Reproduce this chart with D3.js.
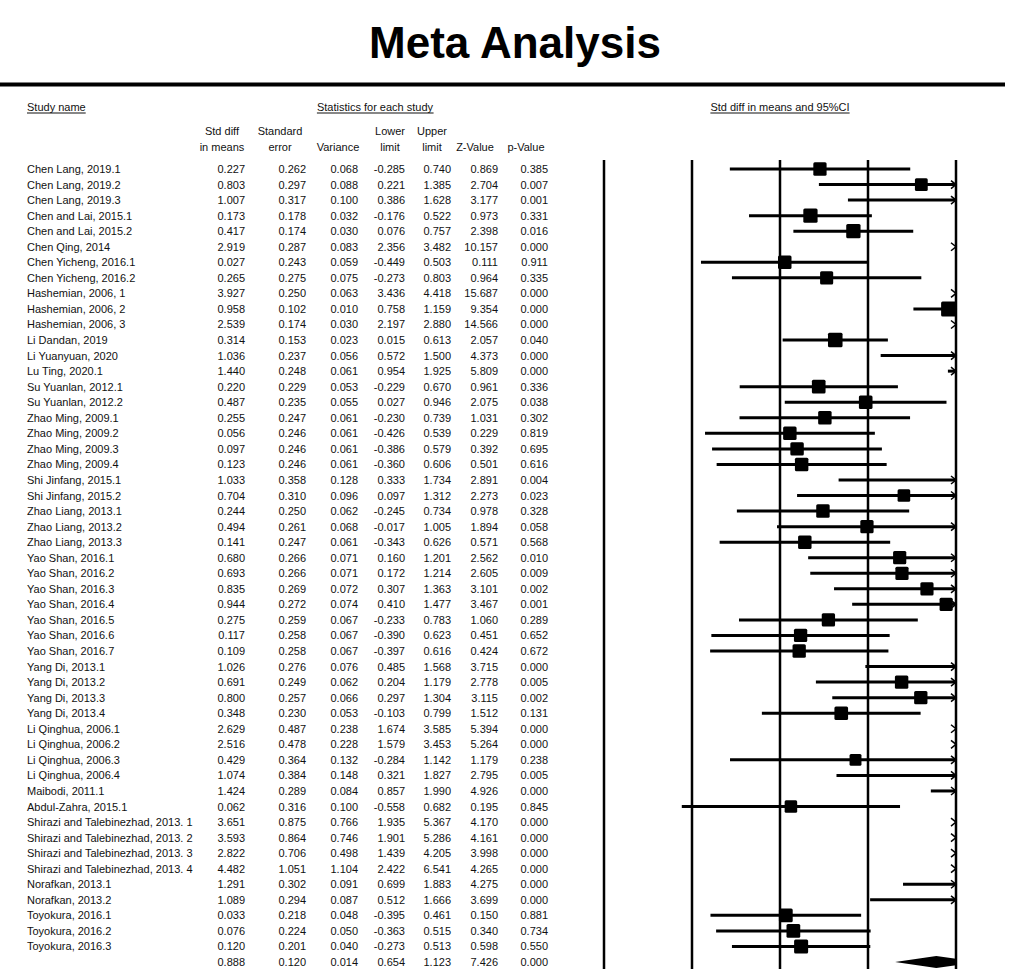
<html>
<head>
<script src="https://d3js.org/d3.v7.min.js"></script>
<style>
  body { margin: 0; background: #fff; }
  text { font-family: Arial, "Liberation Sans", sans-serif; fill: #111; }
</style>
</head>
<body>
<svg width="1021" height="974"></svg>
<script>

var studies = ["Chen Lang, 2019.1", "Chen Lang, 2019.2", "Chen Lang, 2019.3", "Chen and Lai, 2015.1", "Chen and Lai, 2015.2",
  "Chen Qing, 2014", "Chen Yicheng, 2016.1", "Chen Yicheng, 2016.2", "Hashemian, 2006, 1", "Hashemian, 2006, 2",
  "Hashemian, 2006, 3", "Li Dandan, 2019", "Li Yuanyuan, 2020", "Lu Ting, 2020.1", "Su Yuanlan, 2012.1",
  "Su Yuanlan, 2012.2", "Zhao Ming, 2009.1", "Zhao Ming, 2009.2", "Zhao Ming, 2009.3", "Zhao Ming, 2009.4",
  "Shi Jinfang, 2015.1", "Shi Jinfang, 2015.2", "Zhao Liang, 2013.1", "Zhao Liang, 2013.2", "Zhao Liang, 2013.3",
  "Yao Shan, 2016.1", "Yao Shan, 2016.2", "Yao Shan, 2016.3", "Yao Shan, 2016.4", "Yao Shan, 2016.5",
  "Yao Shan, 2016.6", "Yao Shan, 2016.7", "Yang Di, 2013.1", "Yang Di, 2013.2", "Yang Di, 2013.3",
  "Yang Di, 2013.4", "Li Qinghua, 2006.1", "Li Qinghua, 2006.2", "Li Qinghua, 2006.3", "Li Qinghua, 2006.4",
  "Maibodi, 2011.1", "Abdul-Zahra, 2015.1", "Shirazi and Talebinezhad, 2013. 1", "Shirazi and Talebinezhad, 2013. 2",
  "Shirazi and Talebinezhad, 2013. 3", "Shirazi and Talebinezhad, 2013. 4", "Norafkan, 2013.1", "Norafkan, 2013.2",
  "Toyokura, 2016.1", "Toyokura, 2016.2", "Toyokura, 2016.3"];

var stdDiff = [0.227, 0.803, 1.007, 0.173, 0.417, 2.919, 0.027, 0.265, 3.927, 0.958, 2.539, 0.314, 1.036, 1.440, 0.220,
  0.487, 0.255, 0.056, 0.097, 0.123, 1.033, 0.704, 0.244, 0.494, 0.141, 0.680, 0.693, 0.835, 0.944, 0.275,
  0.117, 0.109, 1.026, 0.691, 0.800, 0.348, 2.629, 2.516, 0.429, 1.074, 1.424, 0.062, 3.651, 3.593,
  2.822, 4.482, 1.291, 1.089, 0.033, 0.076, 0.120];
var stdErr = [0.262, 0.297, 0.317, 0.178, 0.174, 0.287, 0.243, 0.275, 0.250, 0.102, 0.174, 0.153, 0.237, 0.248, 0.229,
  0.235, 0.247, 0.246, 0.246, 0.246, 0.358, 0.310, 0.250, 0.261, 0.247, 0.266, 0.266, 0.269, 0.272, 0.259,
  0.258, 0.258, 0.276, 0.249, 0.257, 0.230, 0.487, 0.478, 0.364, 0.384, 0.289, 0.316, 0.875, 0.864,
  0.706, 1.051, 0.302, 0.294, 0.218, 0.224, 0.201];
var variance = [0.068, 0.088, 0.100, 0.032, 0.030, 0.083, 0.059, 0.075, 0.063, 0.010, 0.030, 0.023, 0.056, 0.061, 0.053,
  0.055, 0.061, 0.061, 0.061, 0.061, 0.128, 0.096, 0.062, 0.068, 0.061, 0.071, 0.071, 0.072, 0.074, 0.067,
  0.067, 0.067, 0.076, 0.062, 0.066, 0.053, 0.238, 0.228, 0.132, 0.148, 0.084, 0.100, 0.766, 0.746,
  0.498, 1.104, 0.091, 0.087, 0.048, 0.050, 0.040];
var lower = [-0.285, 0.221, 0.386, -0.176, 0.076, 2.356, -0.449, -0.273, 3.436, 0.758, 2.197, 0.015, 0.572, 0.954, -0.229,
  0.027, -0.230, -0.426, -0.386, -0.360, 0.333, 0.097, -0.245, -0.017, -0.343, 0.160, 0.172, 0.307, 0.410, -0.233,
  -0.390, -0.397, 0.485, 0.204, 0.297, -0.103, 1.674, 1.579, -0.284, 0.321, 0.857, -0.558, 1.935, 1.901,
  1.439, 2.422, 0.699, 0.512, -0.395, -0.363, -0.273];
var upper = [0.740, 1.385, 1.628, 0.522, 0.757, 3.482, 0.503, 0.803, 4.418, 1.159, 2.880, 0.613, 1.500, 1.925, 0.670,
  0.946, 0.739, 0.539, 0.579, 0.606, 1.734, 1.312, 0.734, 1.005, 0.626, 1.201, 1.214, 1.363, 1.477, 0.783,
  0.623, 0.616, 1.568, 1.179, 1.304, 0.799, 3.585, 3.453, 1.142, 1.827, 1.990, 0.682, 5.367, 5.286,
  4.205, 6.541, 1.883, 1.666, 0.461, 0.515, 0.513];
var zValue = [0.869, 2.704, 3.177, 0.973, 2.398, 10.157, 0.111, 0.964, 15.687, 9.354, 14.566, 2.057, 4.373, 5.809, 0.961,
  2.075, 1.031, 0.229, 0.392, 0.501, 2.891, 2.273, 0.978, 1.894, 0.571, 2.562, 2.605, 3.101, 3.467, 1.060,
  0.451, 0.424, 3.715, 2.778, 3.115, 1.512, 5.394, 5.264, 1.179, 2.795, 4.926, 0.195, 4.170, 4.161,
  3.998, 4.265, 4.275, 3.699, 0.150, 0.340, 0.598];
var pValue = [0.385, 0.007, 0.001, 0.331, 0.016, 0.000, 0.911, 0.335, 0.000, 0.000, 0.000, 0.040, 0.000, 0.000, 0.336,
  0.038, 0.302, 0.819, 0.695, 0.616, 0.004, 0.023, 0.328, 0.058, 0.568, 0.010, 0.009, 0.002, 0.001, 0.289,
  0.652, 0.672, 0.000, 0.005, 0.002, 0.131, 0.000, 0.000, 0.238, 0.005, 0.000, 0.845, 0.000, 0.000,
  0.000, 0.000, 0.000, 0.000, 0.881, 0.734, 0.550];

// pooled row: std diff, std err, variance, lower, upper, z, p
var summary = [0.888, 0.120, 0.014, 0.654, 1.123, 7.426, 0.000];

var colHeads = [["Std diff", "in means"], ["Standard", "error"], ["", "Variance"], ["Lower", "limit"],
  ["Upper", "limit"], ["", "Z-Value"], ["", "p-Value"]];
var axisTicks = [-1, -0.5, 0, 0.5, 1];

var svg = d3.select("svg");

// title + rule
svg.append("text")
  .attr("x", 515).attr("y", 58)
  .attr("text-anchor", "middle")
  .style("font-size", "44px").style("font-weight", "bold")
  .style("fill", "#000")
  .text("Meta Analysis");

svg.append("line")
  .attr("x1", 0).attr("x2", 1005)
  .attr("y1", 84.5).attr("y2", 84.5)
  .attr("stroke", "#000").attr("stroke-width", 4);

// rows
var nRows = studies.length + 1;
var y = d3.scaleLinear().domain([0, nRows - 1]).range([169, 962]);

var x = d3.scaleLinear().domain([-1, 1]).range([604, 956]);

var colRight = [245, 306, 358, 405, 451, 498, 548];
var colCenter = [222, 280, 338, 390, 432, 475, 526];

function underlined(txt, cx, cy, anchor) {
  var t = svg.append("text")
    .attr("x", cx).attr("y", cy)
    .attr("text-anchor", anchor)
    .attr("dominant-baseline", "central")
    .style("font-size", "11px")
    .text(txt);
  var bb = t.node().getBBox();
  svg.append("line")
    .attr("x1", bb.x).attr("x2", bb.x + bb.width)
    .attr("y1", cy + 6).attr("y2", cy + 6)
    .attr("stroke", "#111").attr("stroke-width", 1.2);
}

underlined("Study name", 27, 107, "start");
underlined("Statistics for each study", 375, 107, "middle");
underlined("Std diff in means and 95%CI", x(0), 107, "middle");

colHeads.forEach(function(h, i) {
  h.forEach(function(s, j) {
    svg.append("text")
      .attr("x", colCenter[i]).attr("y", 131 + j * 16)
      .attr("text-anchor", "middle")
      .attr("dominant-baseline", "central")
      .style("font-size", "11px")
      .text(s);
  });
});

var rows = studies.map(function(name, i) {
  return {name: name, vals: [stdDiff[i], stdErr[i], variance[i], lower[i], upper[i], zValue[i], pValue[i]]};
});
rows.push({name: "", vals: summary});

var fmt = function(v) { return v.toFixed(3); };

svg.append("g").selectAll("text.name")
  .data(rows).enter().append("text")
  .attr("x", 27)
  .attr("y", function(d, i) { return y(i); })
  .attr("dominant-baseline", "central")
  .style("font-size", "11px")
  .text(function(d) { return d.name; });

rows.forEach(function(r, i) {
  svg.append("g").selectAll("text")
    .data(r.vals).enter().append("text")
    .attr("x", function(d, j) { return colRight[j]; })
    .attr("y", y(i))
    .attr("text-anchor", "end")
    .attr("dominant-baseline", "central")
    .style("font-size", "11px")
    .text(fmt);
});

// forest plot
svg.append("clipPath").attr("id", "plotclip")
  .append("rect").attr("x", x(-1)).attr("y", 150).attr("width", x(1) - x(-1)).attr("height", 830);

svg.append("g").selectAll("line")
  .data(axisTicks).enter().append("line")
  .attr("x1", function(d) { return x(d); }).attr("x2", function(d) { return x(d); })
  .attr("y1", 160).attr("y2", 969)
  .attr("stroke", "#000").attr("stroke-width", 2.5);

var plot = svg.append("g").attr("clip-path", "url(#plotclip)");

var tau2 = 0.2;
var weight = studies.map(function(s, i) { return 1 / (variance[i] + tau2); });
var size = d3.scaleSqrt().domain([0, d3.max(weight)]).range([0, 15]);

studies.forEach(function(s, i) {
  var yy = y(i);
  var lo = Math.max(lower[i], -1), hi = Math.min(upper[i], 1);
  if (lo < hi) {
    plot.append("line")
      .attr("x1", x(lo)).attr("x2", x(hi))
      .attr("y1", yy).attr("y2", yy)
      .attr("stroke", "#000").attr("stroke-width", 3);
  }
  if (stdDiff[i] <= 1 && stdDiff[i] >= -1) {
    var w = size(weight[i]);
    plot.append("rect")
      .attr("x", x(stdDiff[i]) - w / 2).attr("y", yy - w / 2)
      .attr("width", w).attr("height", w)
      .attr("rx", 1.5)
      .attr("fill", "#000");
  }
  if (upper[i] > 1) {
    svg.append("path")
      .attr("d", "M" + (x(1) - 5) + "," + (yy - 4) + "L" + x(1) + "," + yy + "L" + (x(1) - 5) + "," + (yy + 4))
      .attr("fill", "none").attr("stroke", "#000").attr("stroke-width", 1.5);
  }
});

// pooled diamond
var ys = y(nRows - 1);
plot.append("path")
  .attr("d", "M" + x(summary[3]) + "," + ys + "L" + x(summary[0]) + "," + (ys - 6) +
    "L" + x(summary[4]) + "," + ys + "L" + x(summary[0]) + "," + (ys + 6) + "Z")
  .attr("fill", "#000");

</script>
</body>
</html>
